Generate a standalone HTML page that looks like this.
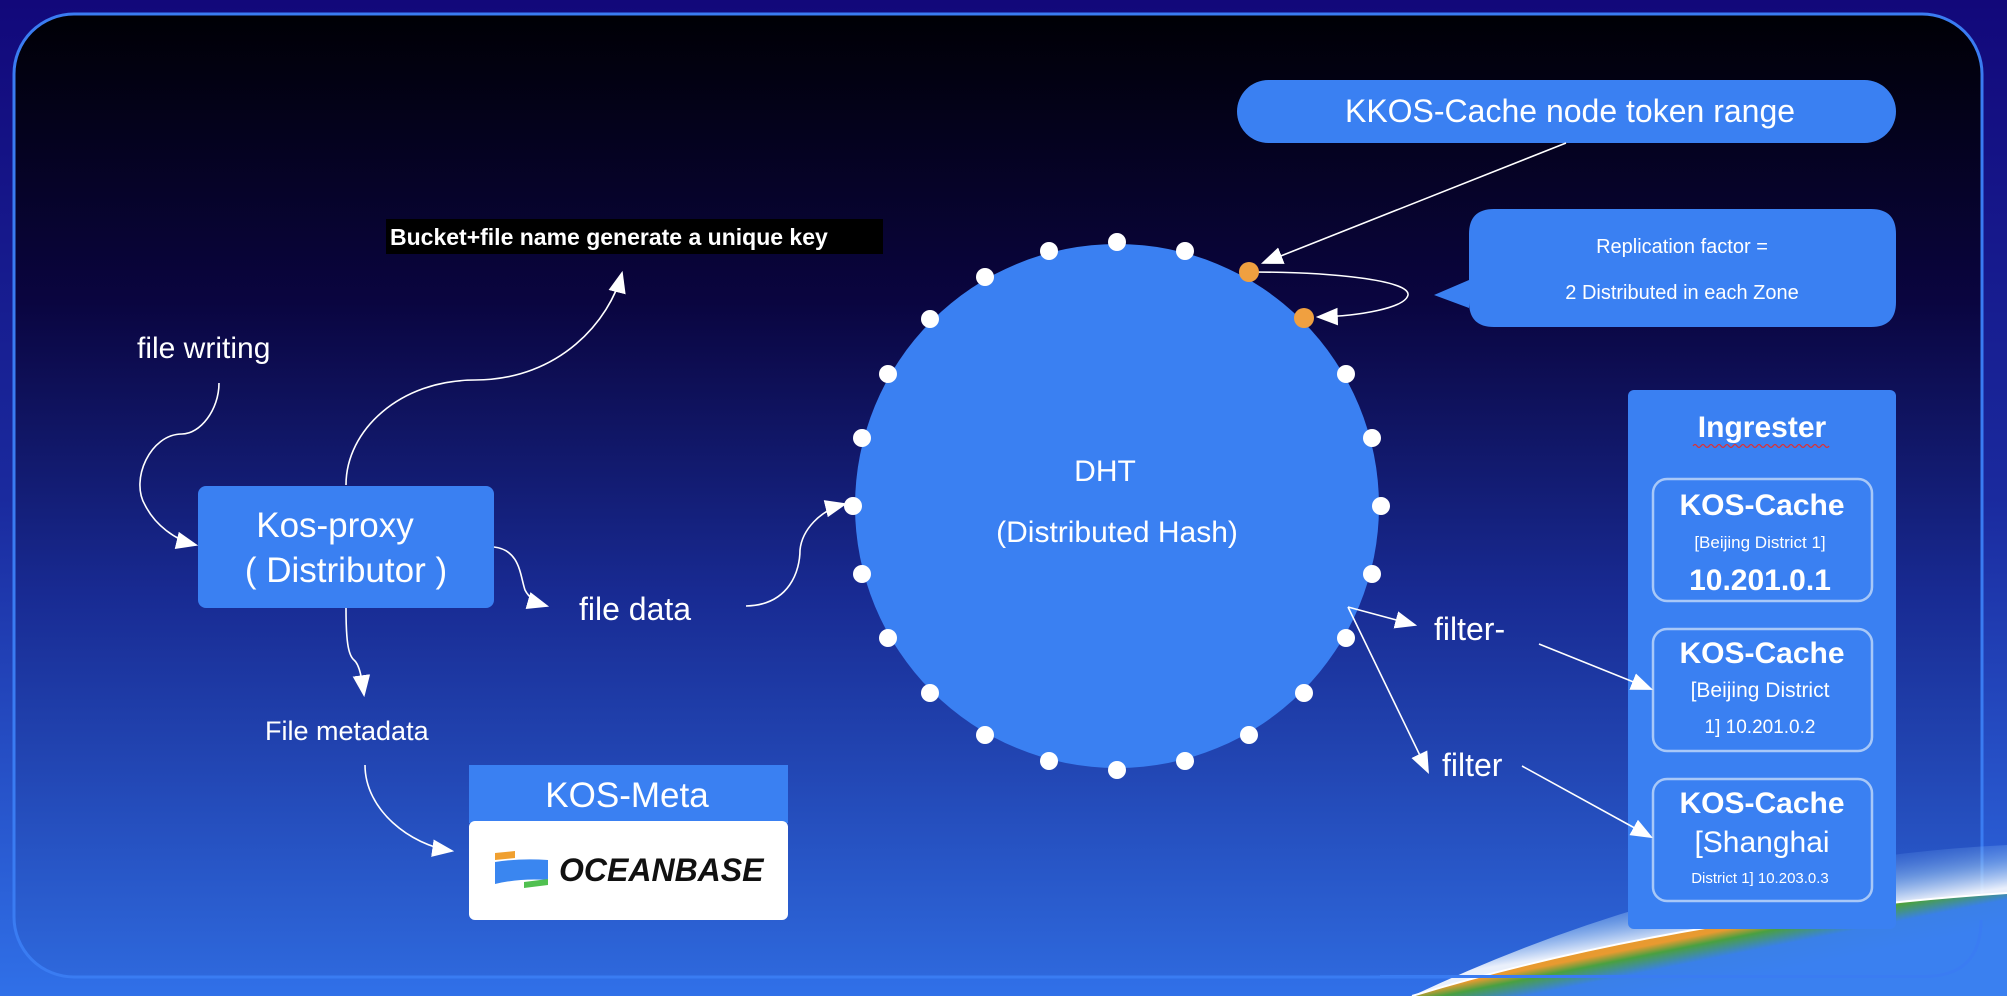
<!DOCTYPE html>
<html><head><meta charset="utf-8"><style>
html,body{margin:0;padding:0;width:2007px;height:996px;overflow:hidden;background:#1a2a9a}
svg{display:block}
text{font-family:"Liberation Sans","DejaVu Sans",sans-serif;fill:#fff}
</style></head><body>
<svg width="2007" height="996" viewBox="0 0 2007 996" xmlns="http://www.w3.org/2000/svg">
<defs>
<linearGradient id="outer" x1="0" y1="0" x2="0" y2="1">
<stop offset="0" stop-color="#12087a"/><stop offset="0.5" stop-color="#1a2a9e"/><stop offset="1" stop-color="#3070e8"/>
</linearGradient>
<linearGradient id="inner" x1="0" y1="0" x2="0" y2="1">
<stop offset="0" stop-color="#000005"/><stop offset="0.3" stop-color="#0a0540"/><stop offset="0.6" stop-color="#182a92"/><stop offset="1" stop-color="#2e68dc"/>
</linearGradient>
<linearGradient id="glow" gradientUnits="userSpaceOnUse" x1="1700" y1="935" x2="1690" y2="870">
<stop offset="0" stop-color="#ffffff" stop-opacity="0.9"/><stop offset="0.4" stop-color="#a8d0f5" stop-opacity="0.5"/><stop offset="1" stop-color="#3a7ae8" stop-opacity="0"/>
</linearGradient>
<linearGradient id="earth" gradientUnits="userSpaceOnUse" x1="1700" y1="935" x2="1710" y2="985">
<stop offset="0" stop-color="#e89a30"/><stop offset="0.18" stop-color="#4aa040"/><stop offset="0.5" stop-color="#3a80e8"/><stop offset="1" stop-color="#3a80f0"/>
</linearGradient>
<marker id="ahb" viewBox="0 0 10 10" refX="9" refY="5" markerWidth="22" markerHeight="22" markerUnits="userSpaceOnUse" orient="auto">
<path d="M0,1 L10,5 L0,9 z" fill="#fff"/></marker>
</defs>
<rect width="2007" height="996" fill="url(#outer)"/>
<rect x="14" y="14" width="1968" height="963" rx="60" fill="url(#inner)" stroke="#3a7cf2" stroke-width="3"/>
<!-- horizon -->
<path d="M1412,996 Q1680,915 2007,893 L2007,845 Q1700,860 1412,996 Z" fill="url(#glow)"/>
<path d="M1412,996 Q1680,915 2007,893 L2007,996 Z" fill="url(#earth)"/>
<path d="M1412,996 Q1680,915 2007,893" fill="none" stroke="#fff" stroke-width="2"/>
<path d="M1380,976.5 H1925 Q1981,976 1981,920" fill="none" stroke="#3a7cf2" stroke-width="3"/>

<!-- Kos-proxy -->
<rect x="198" y="486" width="296" height="122" rx="8" fill="#3a80f2"/>
<text x="335" y="537" font-size="35" text-anchor="middle">Kos-proxy</text>
<text x="346" y="582" font-size="35" text-anchor="middle">( Distributor )</text>

<text x="137" y="358" font-size="30">file writing</text>
<rect x="386" y="219" width="497" height="35" fill="#000"/>
<text x="390" y="245" font-size="23" font-weight="bold">Bucket+file name generate a unique key</text>
<text x="579" y="620" font-size="32">file data</text>
<text x="265" y="740" font-size="27">File metadata</text>

<!-- KOS-Meta -->
<rect x="469" y="765" width="319" height="58" fill="#3a80f2"/>
<text x="627" y="807" font-size="35" text-anchor="middle">KOS-Meta</text>
<rect x="469" y="821" width="319" height="99" rx="6" fill="#fff"/>
<path d="M495,853 L515,851 L515,858 L495,860 Z" fill="#f0a030"/>
<path d="M495,862 Q520,858 548,860 L548,880 Q520,878 495,884 Z" fill="#3a86f0"/>
<path d="M524,882 L548,879 L548,885 L524,888 Z" fill="#50c050"/>
<text x="559" y="881" font-size="32" font-weight="bold" font-style="italic" style="fill:#111">OCEANBASE</text>

<!-- connectors left -->
<g fill="none" stroke="#fff" stroke-width="1.6">
<path d="M219,383 C219,410 200,434 182,434 C150,434 130,480 145,505 C155,525 175,540 196,545" marker-end="url(#ahb)"/>
<path d="M346,485 C346,430 400,380 475,380 C560,380 610,320 622,273" marker-end="url(#ahb)"/>
<path d="M494,547 C520,550 520,575 525,590 C530,600 540,604 547,606" marker-end="url(#ahb)"/>
<path d="M346,608 C346,640 348,655 354,660 C360,665 362,680 364,695" marker-end="url(#ahb)"/>
<path d="M365,765 C365,810 410,845 452,851" marker-end="url(#ahb)"/>
<path d="M746,606 C790,605 800,570 800,550 C802,530 820,510 845,504" marker-end="url(#ahb)"/>
</g>

<!-- DHT circle -->
<circle cx="1117" cy="506" r="262" fill="#3a80f2"/>
<text x="1105" y="481" font-size="30" text-anchor="middle">DHT</text>
<text x="1117" y="542" font-size="30" text-anchor="middle">(Distributed Hash)</text>
<g fill="#fff">
<circle cx="1117" cy="242" r="9"/><circle cx="1185" cy="251" r="9"/>
<circle cx="1346" cy="374" r="9"/><circle cx="1372" cy="438" r="9"/><circle cx="1381" cy="506" r="9"/><circle cx="1372" cy="574" r="9"/><circle cx="1346" cy="638" r="9"/><circle cx="1304" cy="693" r="9"/><circle cx="1249" cy="735" r="9"/><circle cx="1185" cy="761" r="9"/><circle cx="1117" cy="770" r="9"/><circle cx="1049" cy="761" r="9"/><circle cx="985" cy="735" r="9"/><circle cx="930" cy="693" r="9"/><circle cx="888" cy="638" r="9"/><circle cx="862" cy="574" r="9"/><circle cx="853" cy="506" r="9"/><circle cx="862" cy="438" r="9"/><circle cx="888" cy="374" r="9"/><circle cx="930" cy="319" r="9"/><circle cx="985" cy="277" r="9"/><circle cx="1049" cy="251" r="9"/>
</g>

<!-- KKOS -->
<rect x="1237" y="80" width="659" height="63" rx="31.5" fill="#3a80f2"/>
<text x="1570" y="122" font-size="32" text-anchor="middle">KKOS-Cache node token range</text>
<line x1="1566" y1="143" x2="1263" y2="263" stroke="#fff" stroke-width="1.6" marker-end="url(#ahb)"/>

<!-- Replication -->
<path d="M1494,209 H1871 Q1896,209 1896,234 V302 Q1896,327 1871,327 H1494 Q1469,327 1469,302 V308 L1434,295 L1469,280 V234 Q1469,209 1494,209 Z" fill="#3a80f2"/>
<text x="1682" y="253" font-size="20" text-anchor="middle">Replication factor =</text>
<text x="1682" y="299" font-size="20" text-anchor="middle">2 Distributed in each Zone</text>
<path d="M1252,272 C1330,272 1410,280 1408,295 C1405,308 1360,316 1318,317" fill="none" stroke="#fff" stroke-width="1.6" marker-end="url(#ahb)"/>
<circle cx="1249" cy="272" r="10" fill="#f0a040"/>
<circle cx="1304" cy="318" r="10" fill="#f0a040"/>

<!-- Ingrester -->
<rect x="1628" y="390" width="268" height="539" rx="6" fill="#3a80f2"/>
<text x="1762" y="437" font-size="30" font-weight="bold" text-anchor="middle">Ingrester</text>
<path d="M1693,446 q2,-3 4,0 t4,0 t4,0 t4,0 t4,0 t4,0 t4,0 t4,0 t4,0 t4,0 t4,0 t4,0 t4,0 t4,0 t4,0 t4,0 t4,0 t4,0 t4,0 t4,0 t4,0 t4,0 t4,0 t4,0 t4,0 t4,0 t4,0 t4,0 t4,0 t4,0 t4,0 t4,0 t4,0 t4,0" fill="none" stroke="#e03030" stroke-width="1.2"/>
<g fill="none" stroke="#a8c8f8" stroke-width="2.5">
<rect x="1653" y="479" width="219" height="122" rx="14"/>
<rect x="1653" y="629" width="219" height="122" rx="14"/>
<rect x="1653" y="779" width="219" height="122" rx="14"/>
</g>
<g text-anchor="middle">
<text x="1762" y="515" font-size="30" font-weight="bold">KOS-Cache</text>
<text x="1760" y="548" font-size="17">[Beijing District 1]</text>
<text x="1760" y="590" font-size="30" font-weight="bold">10.201.0.1</text>
<text x="1762" y="663" font-size="30" font-weight="bold">KOS-Cache</text>
<text x="1760" y="697" font-size="21">[Beijing District</text>
<text x="1760" y="733" font-size="19">1] 10.201.0.2</text>
<text x="1762" y="813" font-size="30" font-weight="bold">KOS-Cache</text>
<text x="1762" y="852" font-size="30">[Shanghai</text>
<text x="1760" y="883" font-size="15">District 1] 10.203.0.3</text>
</g>

<!-- filters -->
<g stroke="#fff" stroke-width="1.6">
<line x1="1348" y1="607" x2="1415" y2="625" marker-end="url(#ahb)"/>
<line x1="1348" y1="607" x2="1428" y2="772" marker-end="url(#ahb)"/>
<line x1="1539" y1="644" x2="1651" y2="689" marker-end="url(#ahb)"/>
<line x1="1522" y1="766" x2="1651" y2="837" marker-end="url(#ahb)"/>
</g>
<text x="1434" y="640" font-size="32">filter-</text>
<text x="1442" y="776" font-size="32">filter</text>
</svg>
</body></html>
